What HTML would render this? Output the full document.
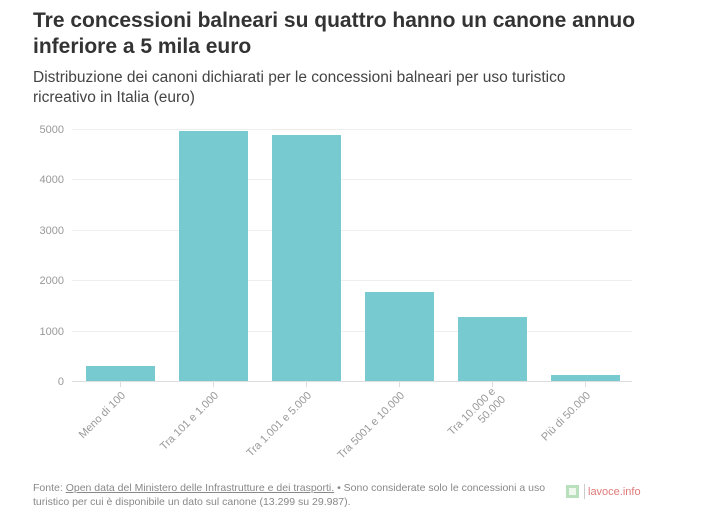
<!DOCTYPE html>
<html><head><meta charset="utf-8"><style>
body{margin:0;background:#fff;font-family:"Liberation Sans",sans-serif;}
.t{position:absolute;left:33px;top:8px;font-size:21px;font-weight:bold;color:#333;line-height:26px;width:640px}
.s{position:absolute;left:33px;top:68px;font-size:15.5px;color:#444;line-height:20px;width:560px}
.f{position:absolute;left:33px;top:481px;font-size:10.5px;color:#888;line-height:14px;width:520px}
.f u{text-decoration:underline}
</style></head><body>
<div class="t">Tre concessioni balneari su quattro hanno un canone annuo inferiore a 5 mila euro</div>
<div class="s">Distribuzione dei canoni dichiarati per le concessioni balneari per uso turistico ricreativo in Italia (euro)</div>
<svg width="706" height="518" style="position:absolute;left:0;top:0" font-family="Liberation Sans, sans-serif">
<g stroke="#eee" stroke-width="1">
<line x1="72" x2="632" y1="129.5" y2="129.5"/><line x1="72" x2="632" y1="179.5" y2="179.5"/>
<line x1="72" x2="632" y1="230.5" y2="230.5"/><line x1="72" x2="632" y1="280.5" y2="280.5"/>
<line x1="72" x2="632" y1="331.5" y2="331.5"/><line x1="72" x2="632" y1="381.5" y2="381.5" stroke="#ddd"/>
</g>
<g fill="#999" font-size="11" text-anchor="end">
<text x="64" y="133">5000</text><text x="64" y="183">4000</text><text x="64" y="234">3000</text>
<text x="64" y="284">2000</text><text x="64" y="335">1000</text><text x="64" y="385">0</text>
</g>
<g fill="#76cad0">
<rect x="86" y="366" width="69" height="15"/>
<rect x="179" y="131" width="69" height="250"/>
<rect x="272" y="135" width="69" height="246"/>
<rect x="365" y="292" width="69" height="89"/>
<rect x="458" y="317" width="69" height="64"/>
<rect x="551" y="375" width="69" height="6"/>
</g>
<g stroke="#ddd"><line x1="120.5" x2="120.5" y1="381" y2="387"/><line x1="213.5" x2="213.5" y1="381" y2="387"/><line x1="306.5" x2="306.5" y1="381" y2="387"/><line x1="399.5" x2="399.5" y1="381" y2="387"/><line x1="492.5" x2="492.5" y1="381" y2="387"/><line x1="585.5" x2="585.5" y1="381" y2="387"/></g>
<g fill="#999" font-size="11" text-anchor="end">
<text transform="translate(126,396) rotate(-45)">Meno di 100</text>
<text transform="translate(219,396) rotate(-45)">Tra 101 e 1.000</text>
<text transform="translate(312,396) rotate(-45)">Tra 1.001 e 5.000</text>
<text transform="translate(405,396) rotate(-45)">Tra 5001 e 10.000</text>
<text transform="translate(496,392) rotate(-45)">Tra 10.000 e</text>
<text transform="translate(506,400) rotate(-45)">50.000</text>
<text transform="translate(591,396) rotate(-45)">Più di 50.000</text>
</g>
<rect x="566" y="485" width="13" height="13" fill="#b8e0bd"/><rect x="569" y="488" width="7" height="7" fill="#eef8ef"/>
<line x1="584.5" x2="584.5" y1="484" y2="499" stroke="#ccc"/>
<text x="588" y="495" font-size="11" fill="#e07a7a">lavoce.info</text>
</svg>
<div class="f">Fonte: <u>Open data del Ministero delle Infrastrutture e dei trasporti.</u> • Sono considerate solo le concessioni a uso turistico per cui è disponibile un dato sul canone (13.299 su 29.987).</div>
</body></html>
